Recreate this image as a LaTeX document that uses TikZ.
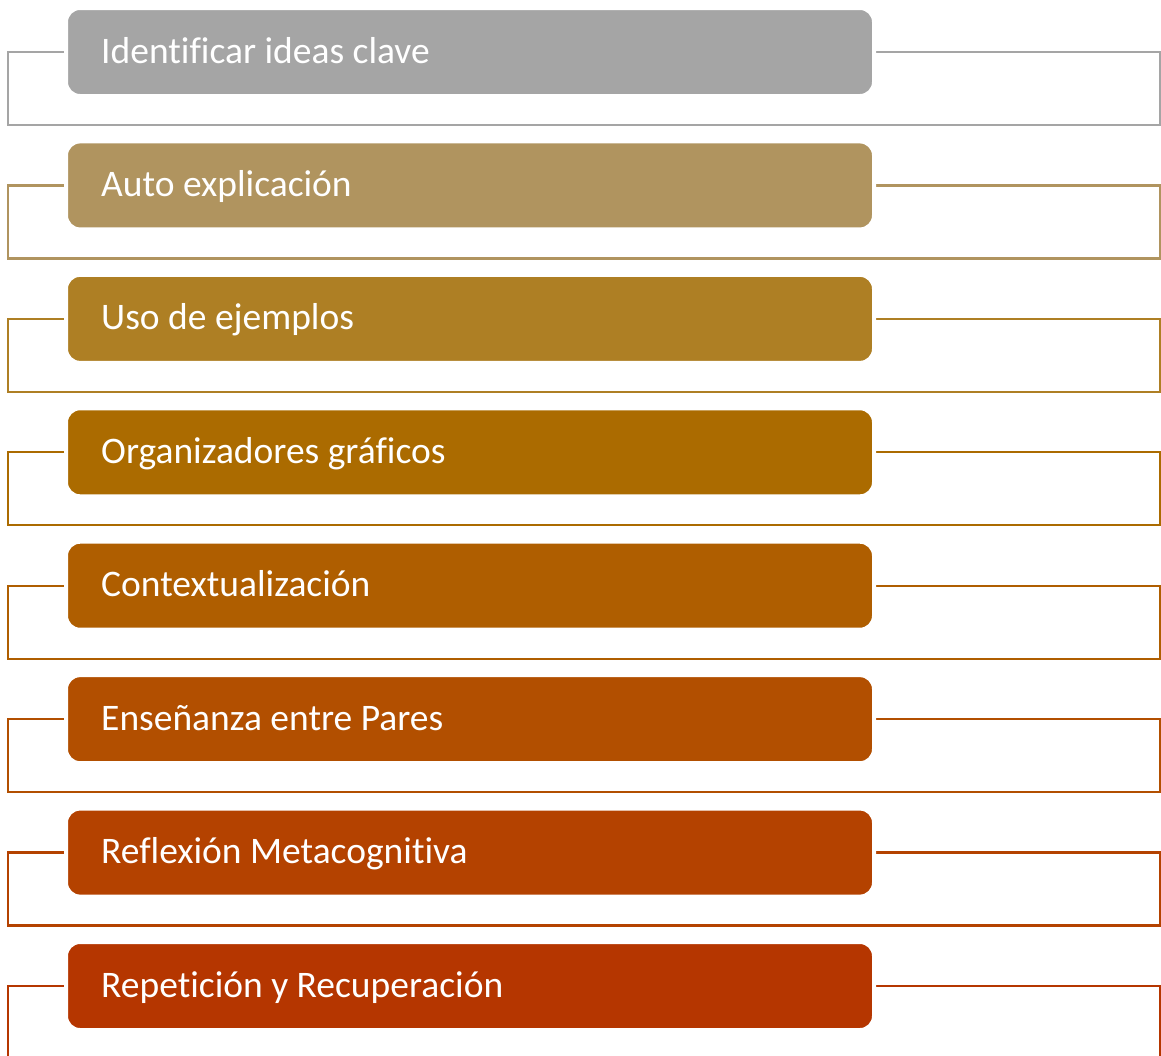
\documentclass[tikz,border=0pt]{standalone}
\usepackage{fontspec}
\setmainfont[Ligatures=NoCommon]{Carlito}
\usetikzlibrary{calc}

% Colores de los pasos
\definecolor{pasoA}{HTML}{A5A5A5}
\definecolor{pasoB}{HTML}{B0945F}
\definecolor{pasoC}{HTML}{AE7F24}
\definecolor{pasoD}{HTML}{AB6B00}
\definecolor{pasoE}{HTML}{AF5E00}
\definecolor{pasoF}{HTML}{B24F00}
\definecolor{pasoG}{HTML}{B44200}
\definecolor{pasoH}{HTML}{B53600}

\tikzset{
  marco/.style={line width=2.2pt},
  caja/.style={draw=white, line width=4pt, rounded corners=14pt,
    minimum width=808pt, minimum height=88pt, inner sep=0pt},
  texto/.style={text=white, inner sep=0pt, anchor=base west,
    font=\fontsize{37.5}{45}\selectfont}
}

\begin{document}
\begin{tikzpicture}[x=1pt,y=-1pt]
\useasboundingbox (0,0) rectangle (1161,1055);
\clip (0,0) rectangle (1161,1055);
% Pasos
\foreach \i/\col/\txt in {0/pasoA/{Identificar ideas clave},
                          1/pasoB/{Auto explicación},
                          2/pasoC/{Uso de ejemplos},
                          3/pasoD/{Organizadores gráficos},
                          4/pasoE/{Contextualización},
                          5/pasoF/{Enseñanza entre Pares},
                          6/pasoG/{Reflexión Metacognitiva},
                          7/pasoH/{Repetición y Recuperación}} {
  \pgfmathsetmacro{\yc}{52+133.43*\i}
  % Marco
  \draw[marco, draw=\col] (8,\yc) rectangle (1160,\yc+73);
  % Caja
  \node[caja, fill=\col] (c\i) at (470,\yc) {};
  % Texto
  \node[texto] (t\i) at ($(c\i.west)+(37,11)$) {\txt};
}
\end{tikzpicture}
\end{document}
